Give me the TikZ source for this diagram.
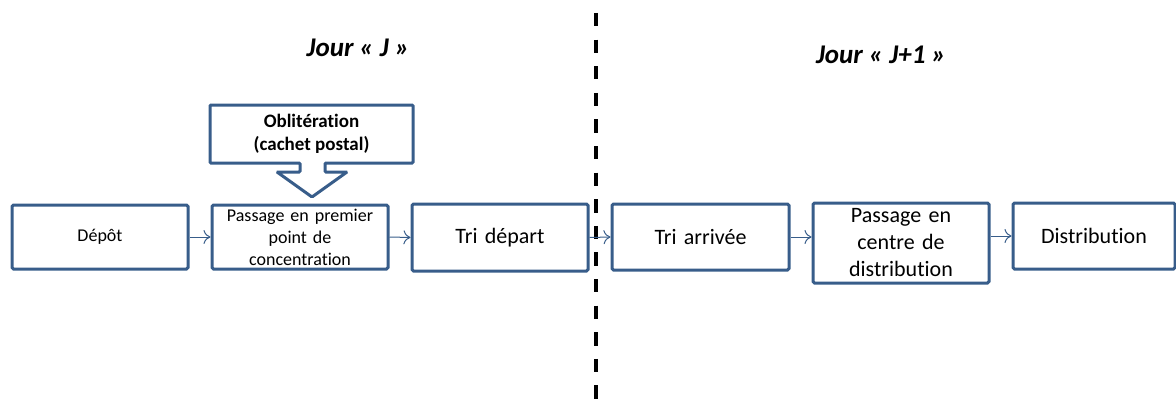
\documentclass[tikz,border=0pt]{standalone}
\usepackage{fontspec}
\setmainfont{Carlito}[Ligatures=NoCommon]
\usetikzlibrary{arrows.meta}
\definecolor{boxblue}{HTML}{385D8A}
\newcommand{\gsp}{\hspace{0.22em}}
\tikzset{
  box/.style={draw=boxblue, line width=3pt, rounded corners=1.5pt, fill=white, align=center, inner sep=2pt},
  small/.style={font=\fontsize{18}{22}\selectfont},
  big/.style={font=\fontsize{22}{27}\selectfont},
  conn/.style={draw=boxblue, line width=1pt, -{To[length=7pt,width=14pt,line width=1pt]}},
  title/.style={font=\fontsize{27}{32}\selectfont\bfseries\itshape},
}
\begin{document}
\begin{tikzpicture}[x=1pt,y=-1pt]
\useasboundingbox (0,0) rectangle (1176,412);
% dashed separator
\coordinate (d1) at (596,13);
\coordinate (d2) at (596,412);
\draw[line width=3.5pt, dash pattern=on 13.3pt off 13.3pt] (d1) -- (d2);
% titles
\node[title] (tJ) at (358,48) {Jour\gsp«\gsp J\gsp»};
\node[title] (tJ1) at (881,55) {Jour\gsp«\gsp J+1\gsp»};
% boxes
\node[box, small, minimum width=176pt, minimum height=64pt, text width=165pt] (depot) at (100,237) {Dépôt};
\node[box, small, minimum width=176pt, minimum height=64pt, text width=165pt] (ppc) at (300,237) {Passage en premier\\point de\\concentration};
\node[box, big, minimum width=176pt, minimum height=67pt, text width=165pt] (tdep) at (500,237.5) {Tri départ};
\node[box, big, minimum width=177pt, minimum height=66pt, text width=165pt] (tarr) at (700.5,237) {Tri arrivée};
\node[box, big, minimum width=176pt, minimum height=80pt, text width=165pt] (pcd) at (901,243) {Passage en\\centre de\\distribution};
\node[box, big, minimum width=162pt, minimum height=66pt, text width=150pt] (dist) at (1094,236) {Distribution};
% connectors
\draw[conn] (depot.east) -- (ppc.west);
\draw[conn] (ppc.east) -- (tdep.west);
\draw[conn] (tdep.east) -- (tarr.west);
\draw[conn] (tarr.east) -- (pcd.west |- tarr.east);
\draw[conn] (pcd.east |- dist.west) -- (dist.west);
% callout
\draw[draw=boxblue, line width=3pt, rounded corners=1pt, fill=white]
  (210,105) -- (413,105) -- (413,163) -- (325,163) -- (325,172) -- (347,172)
  -- (312,197) -- (277,172) -- (300,172) -- (300,163) -- (210,163) -- cycle;
\node[font=\fontsize{19}{23}\selectfont\bfseries, align=center] (oblit) at (311.5,134) {Oblitération\\(cachet postal)};
\end{tikzpicture}
\end{document}
